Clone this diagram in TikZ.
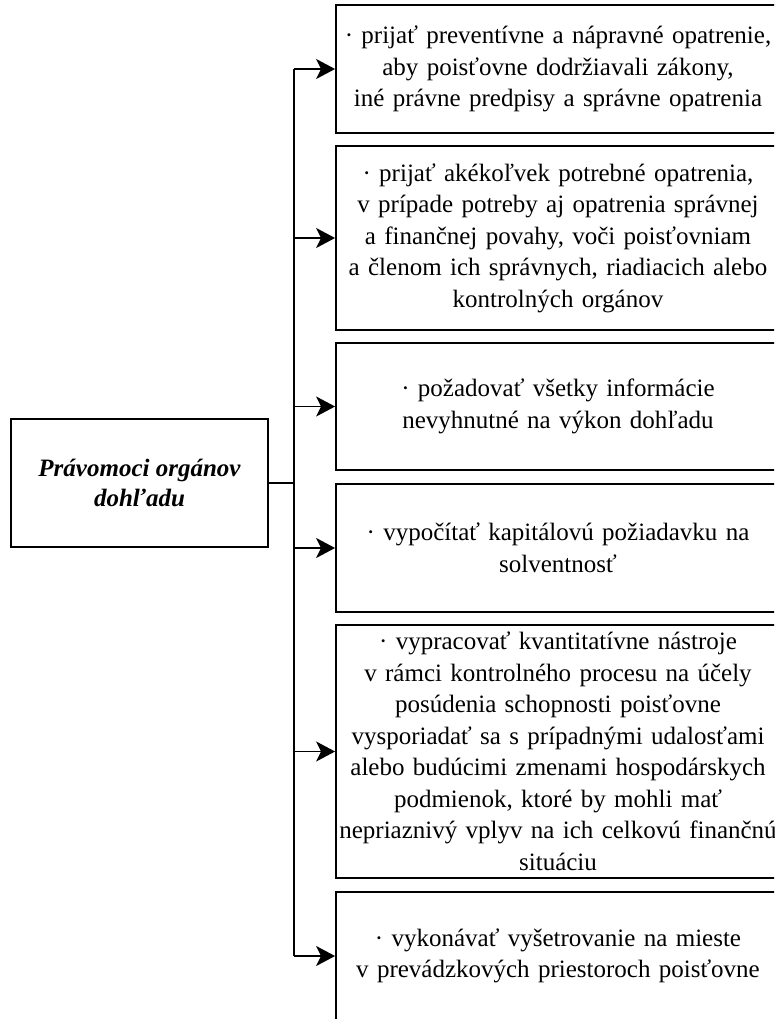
\documentclass[tikz,border=0pt]{standalone}
\usepackage{fontspec}
\setmainfont{Liberation Serif}
\usetikzlibrary{arrows.meta}
\tikzset{
  item/.style={draw, line width=1.8pt, inner sep=0pt, minimum width=444pt,
    text width=444pt, align=center, font=\fontsize{25}{31.5}\selectfont},
  root/.style={draw, line width=1.8pt, inner sep=0pt, minimum width=257pt,
    minimum height=128pt, align=center,
    font=\fontsize{25}{30}\selectfont\bfseries\itshape},
  link/.style={line width=1.8pt},
  arr/.style={line width=1.8pt, -{Stealth[length=19pt,width=20pt,inset=5pt]}}
}
\begin{document}
\begin{tikzpicture}[x=1pt,y=-1pt]
\useasboundingbox (0,0) rectangle (774,1019);
\clip (0,0) rectangle (774,1019);
\fill[white] (0,0) rectangle (774,1019);

% root node
\node[root] (src) at (139.5,483) {Právomoci orgánov\\dohľadu};

% list of powers
\node[item, minimum height=128pt] (b1) at (558,69)
  {· prijať preventívne a nápravné opatrenie,\\aby poisťovne dodržiavali zákony,\\iné právne predpisy a správne opatrenia};
\node[item, minimum height=184pt] (b2) at (558,238)
  {· prijať akékoľvek potrebné opatrenia,\\v prípade potreby aj opatrenia správnej\\a finančnej povahy, voči poisťovniam\\a členom ich správnych, riadiacich alebo\\kontrolných orgánov};
\node[item, minimum height=127pt] (b3) at (558,406.5)
  {· požadovať všetky informácie\\nevyhnutné na výkon dohľadu};
\node[item, minimum height=128pt] (b4) at (558,548)
  {· vypočítať kapitálovú požiadavku na\\solventnosť};
\node[item, minimum height=253pt] (b5) at (558,751.5)
  {· vypracovať kvantitatívne nástroje\\v rámci kontrolného procesu na účely\\posúdenia schopnosti poisťovne\\vysporiadať sa s prípadnými udalosťami\\alebo budúcimi zmenami hospodárskych\\podmienok, ktoré by mohli mať\\nepriaznivý vplyv na ich celkovú finančnú\\situáciu};
\node[item, minimum height=128pt] (b6) at (558,956)
  {· vykonávať vyšetrovanie na mieste\\v prevádzkových priestoroch poisťovne};

% connectors
\coordinate (tr) at (294,0);
\draw[link] (src.east) -- (src.east -| tr);
\draw[link] (b1.west -| tr) -- (b6.west -| tr);
\foreach \b in {b1,b2,b3,b4,b5,b6}
  \draw[arr] (\b.west -| tr) -- (\b.west);
\end{tikzpicture}
\end{document}
